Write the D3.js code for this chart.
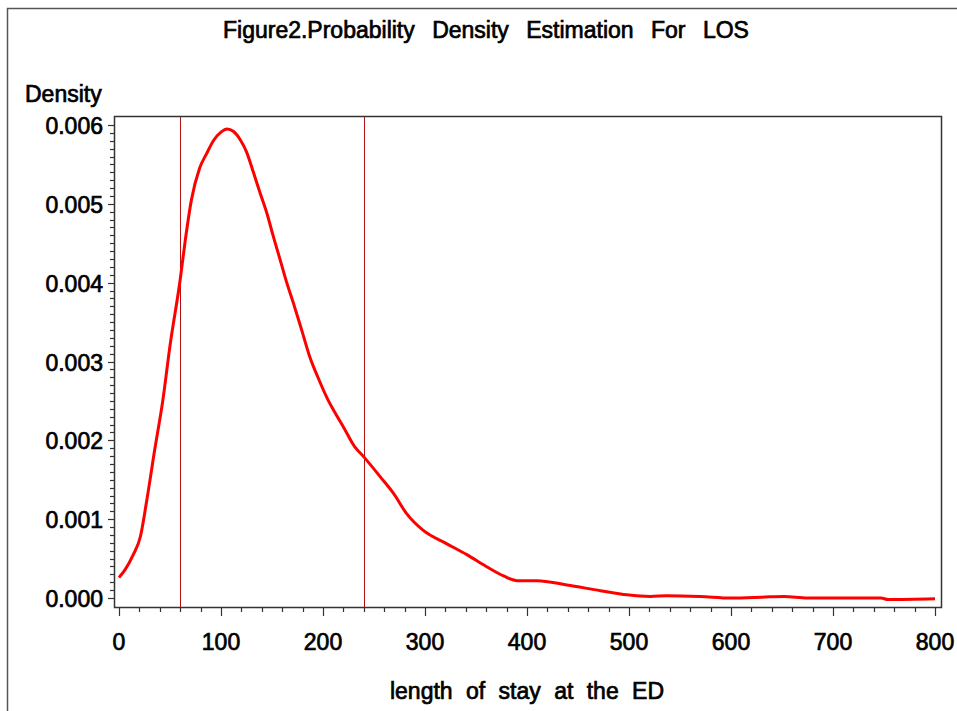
<!DOCTYPE html>
<html>
<head>
<meta charset="utf-8">
<script src="https://cdn.jsdelivr.net/npm/d3@7"></script>
<style>
  body { margin: 0; background: #fff; }
  svg { display: block; }
  text { font-family: "Liberation Sans", Arial, sans-serif; fill: #000; stroke: #000; stroke-width: 0.7px; }
</style>
</head>
<body>
<svg width="957" height="711"></svg>
<script>
// length of stay (minutes) and estimated density
var losValues = [0, 6, 14, 21, 27, 35, 43, 50, 60, 65, 71, 79, 86, 93, 100, 106, 112, 119,
  125, 132, 138, 145, 151, 158, 164, 171, 180, 187, 195, 205, 210, 220, 231, 240, 256, 269,
  282, 298, 321, 341, 360, 377, 390, 410, 439, 472, 498, 521, 537, 570, 600, 630, 652, 675,
  700, 747, 754, 800];
var densityValues = [0.00026, 0.00036, 0.00055, 0.00078, 0.00122, 0.00188, 0.00251, 0.0032,
  0.00404, 0.00454, 0.00505, 0.00545, 0.00564, 0.00581, 0.00591, 0.00595, 0.00592, 0.00581,
  0.00566, 0.00539, 0.00515, 0.00488, 0.0046, 0.00429, 0.00402, 0.00374, 0.00336, 0.00306,
  0.0028, 0.00251, 0.00239, 0.00217, 0.00192, 0.00179, 0.00154, 0.00133, 0.00107, 0.00086,
  0.00069, 0.00055, 0.0004, 0.00028, 0.00022, 0.00022, 0.000165, 0.000093, 0.00004, 0.00002,
  0.00003, 0.00002, 0.0, 0.00001, 0.00002, 0.0, 0.0, 0.0, -0.00002, -0.00001];
var refLines = [60, 240];
var xTicks = [0, 100, 200, 300, 400, 500, 600, 700, 800];
var yTicks = [0, 0.001, 0.002, 0.003, 0.004, 0.005, 0.006];

var svg = d3.select("svg");

var box = { left: 114, right: 941, top: 116, bottom: 607 };

var x = d3.scaleLinear().domain([0, 800]).range([119, 935]);
var y = d3.scaleLinear().domain([0, 0.006]).range([598, 125]);

// outer frame (open on the right and bottom)
svg.append("path")
  .attr("d", "M7.5,711V8.5H957")
  .attr("fill", "none")
  .attr("stroke", "#555")
  .attr("stroke-width", 1.5);

svg.append("text")
  .attr("x", 223)
  .attr("y", 38)
  .style("font-size", "23px")
  .style("word-spacing", "11px")
  .text("Figure2.Probability Density Estimation For LOS");

svg.append("text")
  .attr("x", 25)
  .attr("y", 102)
  .style("font-size", "23px")
  .text("Density");

// plot box
svg.append("rect")
  .attr("x", box.left + 0.5)
  .attr("y", box.top + 0.5)
  .attr("width", box.right - box.left)
  .attr("height", box.bottom - box.top)
  .attr("fill", "none")
  .attr("stroke", "#333")
  .attr("stroke-width", 1.5);

// y axis ticks
var yMinor = d3.range(0, 61).map(function(i) { return i * 0.0001; });
svg.append("g").selectAll("line")
  .data(yMinor)
  .enter().append("line")
  .attr("x1", box.left)
  .attr("x2", function(d, i) { return i % 10 === 0 ? box.left - 6 : box.left - 4; })
  .attr("y1", function(d) { return Math.round(y(d)) + 0.5; })
  .attr("y2", function(d) { return Math.round(y(d)) + 0.5; })
  .attr("stroke", "#333")
  .attr("stroke-width", 1.2);

svg.append("g").selectAll("text")
  .data(yTicks)
  .enter().append("text")
  .attr("x", 103)
  .attr("y", function(d) { return y(d) + 9; })
  .attr("text-anchor", "end")
  .style("font-size", "23px")
  .text(function(d) { return d3.format(".3f")(d); });

// x axis ticks
var xMinor = d3.range(0, 41).map(function(i) { return i * 20; });
svg.append("g").selectAll("line")
  .data(xMinor)
  .enter().append("line")
  .attr("x1", function(d) { return Math.round(x(d)) + 0.5; })
  .attr("x2", function(d) { return Math.round(x(d)) + 0.5; })
  .attr("y1", box.bottom)
  .attr("y2", function(d, i) { return i % 5 === 0 ? box.bottom + 9 : box.bottom + 5; })
  .attr("stroke", "#333")
  .attr("stroke-width", 1.2);

svg.append("g").selectAll("text")
  .data(xTicks)
  .enter().append("text")
  .attr("x", function(d) { return x(d); })
  .attr("y", 650)
  .attr("text-anchor", "middle")
  .style("font-size", "23px")
  .text(function(d) { return d; });

svg.append("text")
  .attr("x", 527)
  .attr("y", 699)
  .attr("text-anchor", "middle")
  .style("font-size", "23px")
  .style("word-spacing", "7px")
  .text("length of stay at the ED");

// reference lines
svg.append("g").selectAll("line")
  .data(refLines)
  .enter().append("line")
  .attr("x1", function(d) { return Math.round(x(d)) + 0.5; })
  .attr("x2", function(d) { return Math.round(x(d)) + 0.5; })
  .attr("y1", box.top + 1)
  .attr("y2", box.bottom)
  .attr("stroke", "#b01010")
  .attr("stroke-width", 1);

// density curve
var line = d3.line()
  .x(function(d) { return x(d[0]); })
  .y(function(d) { return y(d[1]); })
  .curve(d3.curveMonotoneX);

svg.append("path")
  .datum(d3.zip(losValues, densityValues))
  .attr("d", line)
  .attr("fill", "none")
  .attr("stroke", "#ff0000")
  .attr("stroke-width", 3);
</script>
</body>
</html>
